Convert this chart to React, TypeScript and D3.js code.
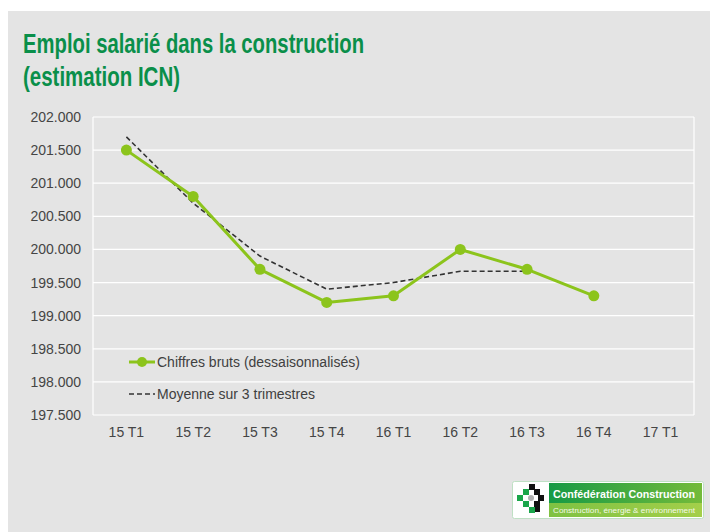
import React from 'react';
import * as d3 from 'd3';

const quarters = ['15 T1', '15 T2', '15 T3', '15 T4', '16 T1', '16 T2', '16 T3', '16 T4', '17 T1'];
const brutValues = [201.5, 200.8, 199.7, 199.2, 199.3, 200.0, 199.7, 199.3];
const moyenneValues = [201.7, 200.7, 199.9, 199.4, 199.5, 199.67, 199.67];
const yTicks = [197.5, 198, 198.5, 199, 199.5, 200, 200.5, 201, 201.5, 202];

const W = 710;
const H = 532;
const plot = { left: 93, right: 694, top: 117, bottom: 415 };

const GREEN = '#8cc41c';
const TITLE_GREEN = '#0a8f4a';
const LABEL = '#454545';

const fmt = d3.format('.3f');

const App = () => {
  const x = d3.scaleBand<string>().domain(quarters).range([plot.left, plot.right]).padding(0);
  const y = d3.scaleLinear().domain([197.5, 202]).range([plot.bottom, plot.top]);
  const cx = (i: number) => (x(quarters[i]) as number) + x.bandwidth() / 2;

  const line = d3.line<number>().x((_, i) => cx(i)).y(d => y(d));

  return (
    <svg width={W} height={H} style={{ position: 'absolute', left: 0, top: 0 }}
      fontFamily="'Liberation Sans', Arial, sans-serif">
      <rect x={0} y={0} width={W} height={H} fill="#ffffff" />
      <rect x={8} y={11} width={W - 8} height={H - 11} fill="#e4e4e4" />

      {/* title */}
      <g fill={TITLE_GREEN} fontWeight="bold" fontSize={27}>
        <text x={23} y={53} textLength={341} lengthAdjust="spacingAndGlyphs">Emploi salarié dans la construction</text>
        <text x={23} y={86} textLength={157} lengthAdjust="spacingAndGlyphs">(estimation ICN)</text>
      </g>

      {/* grid */}
      {yTicks.map(t => (
        <g key={t}>
          <line x1={plot.left} x2={plot.right} y1={y(t)} y2={y(t)} stroke="#ffffff" strokeWidth={1.2} />
          <text x={81} y={y(t) + 5} textAnchor="end" fontSize={14} fill={LABEL}>{fmt(t)}</text>
        </g>
      ))}
      <line x1={plot.left} x2={plot.left} y1={plot.top} y2={plot.bottom} stroke="#ffffff" strokeWidth={1.2} />
      <line x1={plot.right} x2={plot.right} y1={plot.top} y2={plot.bottom} stroke="#ffffff" strokeWidth={1.2} />

      {quarters.map((q, i) => (
        <text key={q} x={cx(i)} y={437} textAnchor="middle" fontSize={14} fill={LABEL}>{q}</text>
      ))}

      {/* series */}
      <path d={line(moyenneValues) || ''} fill="none" stroke="#333333" strokeWidth={1.6} strokeDasharray="5,3" />
      <path d={line(brutValues) || ''} fill="none" stroke={GREEN} strokeWidth={3} strokeLinejoin="round" />
      {brutValues.map((v, i) => (
        <circle key={i} cx={cx(i)} cy={y(v)} r={5.5} fill={GREEN} />
      ))}

      {/* legend */}
      <line x1={129} x2={155} y1={362} y2={362} stroke={GREEN} strokeWidth={3} />
      <circle cx={142} cy={362} r={5} fill={GREEN} />
      <text x={157} y={367} fontSize={14} fill="#404040">Chiffres bruts (dessaisonnalisés)</text>
      <line x1={129} x2={155} y1={394} y2={394} stroke="#333333" strokeWidth={1.6} strokeDasharray="5,3" />
      <text x={157} y={399} fontSize={14} fill="#404040">Moyenne sur 3 trimestres</text>

      {/* logo */}
      <defs>
        <linearGradient id="logoTop" x1="0" x2="1" y1="0" y2="0">
          <stop offset="0" stopColor="#169a45" />
          <stop offset="1" stopColor="#74bb3a" />
        </linearGradient>
        <linearGradient id="logoBottom" x1="0" x2="1" y1="0" y2="0">
          <stop offset="0" stopColor="#7fc242" />
          <stop offset="1" stopColor="#a4cf4a" />
        </linearGradient>
      </defs>
      <rect x={512.5} y={481.5} width={191} height={37} rx={2} fill="#ffffff" stroke="#bfe0c4" />
      <rect x={549} y={483} width={153} height={20} fill="url(#logoTop)" />
      <rect x={549} y={503} width={153} height={14} fill="url(#logoBottom)" />
      <g>
        <rect x={517} y={495} width={6} height={6} fill="#1aa64a" />
        <rect x={523} y={489} width={6} height={6} fill="#1aa64a" />
        <rect x={523} y={501} width={6} height={6} fill="#1aa64a" />
        <rect x={529} y={507} width={6} height={6} fill="#1aa64a" />
        <circle cx={531} cy={498} r={3} fill="#b0b0b0" />
        <rect x={529} y={484} width={6} height={6} fill="#111111" />
        <rect x={534} y={489} width={6} height={6} fill="#111111" />
        <rect x={538} y={495} width={6} height={6} fill="#111111" />
        <rect x={534} y={501} width={6} height={6} fill="#111111" />
        <rect x={535} y={507} width={5} height={5} fill="#111111" />
      </g>
      <text x={553} y={497.5} fontSize={10} fontWeight="bold" fill="#ffffff" textLength={142} lengthAdjust="spacingAndGlyphs">Confédération Construction</text>
      <text x={553} y={513} fontSize={7.5} fill="#f4fae8" textLength={142} lengthAdjust="spacingAndGlyphs">Construction, énergie &amp; environnement</text>
    </svg>
  );
};

export default App;
